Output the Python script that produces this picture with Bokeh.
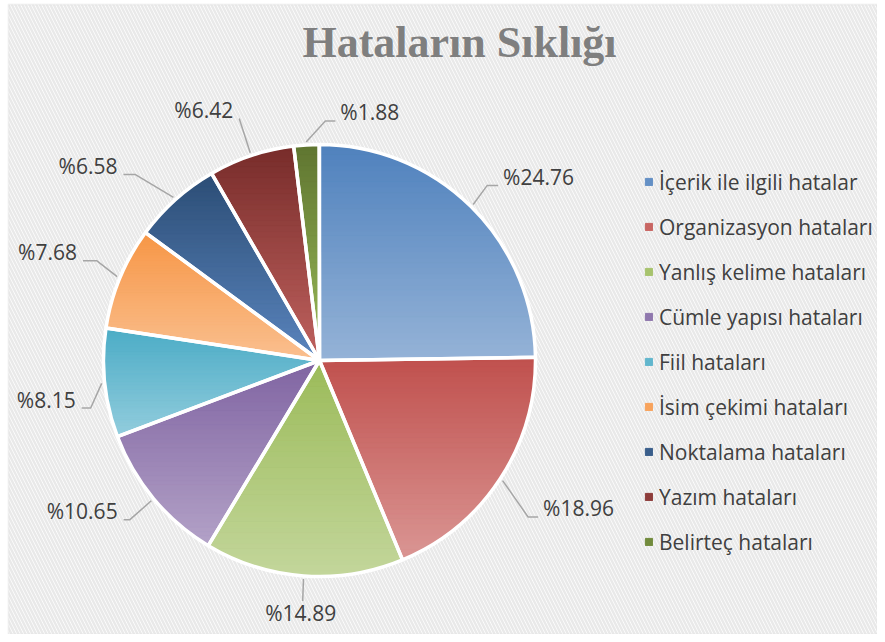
import numpy as np
from bokeh.plotting import figure
from bokeh.models import (ColumnDataSource, Range1d, Legend, LegendItem, Label,
                          BoxAnnotation)
from bokeh.core.properties import value
from bokeh.embed import file_html
from bokeh.resources import INLINE

# ---------------- data ----------------
categories = ["İçerik ile ilgili hatalar", "Organizasyon hataları", "Yanlış kelime hataları",
              "Cümle yapısı hataları", "Fiil hataları", "İsim çekimi hataları",
              "Noktalama hataları", "Yazım hataları", "Belirteç hataları"]
percents = [24.76, 18.96, 14.89, 10.65, 8.15, 7.68, 6.58, 6.42, 1.88]
title_text = "Hataların Sıklığı"

# ---------------- styles ----------------
top_colors = ["#4F81BD", "#C0504D", "#9BBB59", "#8064A2", "#4BACC6", "#F79646",
              "#2C4D75", "#772C2A", "#5F7530"]
bottom_colors = ["#95B3D7", "#DA9694", "#C3D69B", "#B3A2C7", "#93CDDD", "#FAC090",
                 "#5A85BE", "#C0625F", "#9BBB59"]
# label layout (px offsets from slice edge point, y downward)
label_dx = [32, 43, -3, -36, -29, -43, -58, -18, 34]
label_dy = [-28, 31, 39, 14, 18, -24, -32, -44, -31]
label_align = ["left", "left", "center", "right", "right", "right", "right", "right", "left"]
leader_h = [11, 10, 0, 6, 9, 14, 12, 0, 10]

W, H = 877, 634
CX, CY, R = 319, H - 360, 216          # data coords (1 unit = 1 px)


def hex2rgb(h):
    h = h.lstrip("#")
    return np.array([int(h[i:i + 2], 16) for i in (0, 2, 4)], dtype=float)


def rgb2hex(c):
    c = np.clip(np.round(c), 0, 255).astype(int)
    return "#%02x%02x%02x" % tuple(c)


def mix(a, b, t):
    return rgb2hex(hex2rgb(a) * (1 - t) + hex2rgb(b) * t)


def clip(poly, y0, keep_above):
    out = []
    n = len(poly)
    for i in range(n):
        P, Q = poly[i], poly[(i + 1) % n]
        inP = P[1] >= y0 if keep_above else P[1] <= y0
        inQ = Q[1] >= y0 if keep_above else Q[1] <= y0
        if inP:
            out.append(P)
        if inP != inQ:
            t = (y0 - P[1]) / (Q[1] - P[1])
            out.append((P[0] + t * (Q[0] - P[0]), y0))
    return out


p = figure(width=W, height=H, x_range=Range1d(0, W), y_range=Range1d(0, H),
           output_backend="svg", toolbar_location=None, min_border=0)
p.axis.visible = False
p.grid.visible = False
p.outline_line_color = None
p.background_fill_color = "white"
p.border_fill_color = "white"

bg = BoxAnnotation(left=8, top=H - 4, fill_color="white", fill_alpha=1.0,
                   line_color="#D9D9D9", line_width=2,
                   hatch_pattern="\\", hatch_color="#E9E9E9", hatch_scale=7,
                   hatch_weight=2.5, level="underlay")
p.add_layout(bg)

# angles
vals = np.array(percents)
cum = np.concatenate([[0], np.cumsum(vals)])
total = 100.0
start_deg = 90 - cum[:-1] / total * 360
end_deg = 90 - cum[1:] / total * 360
mid_deg = (start_deg + end_deg) / 2

legend_colors = [mix(t, b, 0.3) for t, b in zip(top_colors, bottom_colors)]
src = ColumnDataSource(dict(x=[CX] * len(vals), y=[CY] * len(vals), r=[R] * len(vals),
                            sa=np.radians(start_deg), ea=np.radians(end_deg),
                            color=legend_colors, cat=categories))
base = p.wedge(x="x", y="y", radius="r", start_angle="sa", end_angle="ea",
               direction="clock", fill_color="color", line_color="color", source=src)

# gradient bands
bx, by, bc = [], [], []
NB = 40
for i in range(len(vals)):
    a0, a1 = np.radians(start_deg[i]), np.radians(end_deg[i])
    npts = max(4, int(abs(start_deg[i] - end_deg[i])) + 2)
    th = np.linspace(a0, a1, npts)
    poly = [(CX, CY)] + [(CX + R * np.cos(t), CY + R * np.sin(t)) for t in th]
    ys = [q[1] for q in poly]
    ymin, ymax = min(ys), max(ys)
    edges = np.linspace(ymax, ymin, NB + 1)
    for k in range(NB):
        hi, lo = edges[k], edges[k + 1]
        part = clip(clip(poly, lo, True), hi, False)
        if len(part) < 3:
            continue
        bx.append([q[0] for q in part])
        by.append([q[1] for q in part])
        bc.append(mix(top_colors[i], bottom_colors[i], (k + 0.5) / NB))
p.patches(bx, by, fill_color=bc, line_color=bc, line_width=0.8)

# white separators
p.wedge(x="x", y="y", radius="r", start_angle="sa", end_angle="ea",
        direction="clock", fill_alpha=0, line_color="white", line_width=3.5, source=src)

# labels + leaders
lx, ly, ltxt, lal = [], [], [], []
lxs, lys = [], []
for i in range(len(vals)):
    a = np.radians(mid_deg[i])
    ex_d, ey_d = CX + R * np.cos(a), CY + R * np.sin(a)
    sx_d, sy_d = CX + (R + 3) * np.cos(a), CY + (R + 3) * np.sin(a)
    tx = ex_d + label_dx[i]
    ty = ey_d - label_dy[i]
    lx.append(tx)
    ly.append(ty + 1.5)
    ltxt.append("%" + f"{percents[i]:.2f}")
    lal.append(label_align[i])
    if label_align[i] == "left":
        end = (tx - 5, ty - 7)
        elbow = (end[0] - leader_h[i], end[1])
    elif label_align[i] == "right":
        end = (tx + 6, ty - 7)
        elbow = (end[0] + leader_h[i], end[1])
    else:
        end = (tx + 2, ty + 14)
        elbow = end
    lxs.append([sx_d, elbow[0], end[0]])
    lys.append([sy_d, elbow[1], end[1]])

p.multi_line(lxs, lys, line_color="#A6A6A6", line_width=1.5)
p.text(x=lx, y=ly, text=ltxt, text_align=lal, text_baseline="middle",
       text_font=value("Open Sans"), text_font_size="21px", text_color="#404040")

# title
p.add_layout(Label(x=459, y=H - 42, text=title_text, text_align="center",
                   text_baseline="middle", text_font="Liberation Serif",
                   text_font_style="bold", text_font_size="44px", text_color="#7F7F7F"))

# legend
item_h, spacing = 29, 16
leg_h = len(categories) * item_h + (len(categories) - 1) * spacing
top_px = 183 - item_h / 2 - 2
legend = Legend(items=[LegendItem(label=categories[i], renderers=[base], index=i)
                       for i in range(len(categories))],
                location=(644, int(round(H - (top_px + leg_h)))),
                orientation="vertical", padding=0, margin=0, spacing=spacing,
                glyph_width=9, glyph_height=9, label_standoff=6, label_height=item_h,
                label_text_font="Open Sans", label_text_font_size="21px",
                label_text_color="#404040", background_fill_alpha=0,
                border_line_alpha=0)
p.add_layout(legend)

open("out.html", "w").write(file_html(p, INLINE))
